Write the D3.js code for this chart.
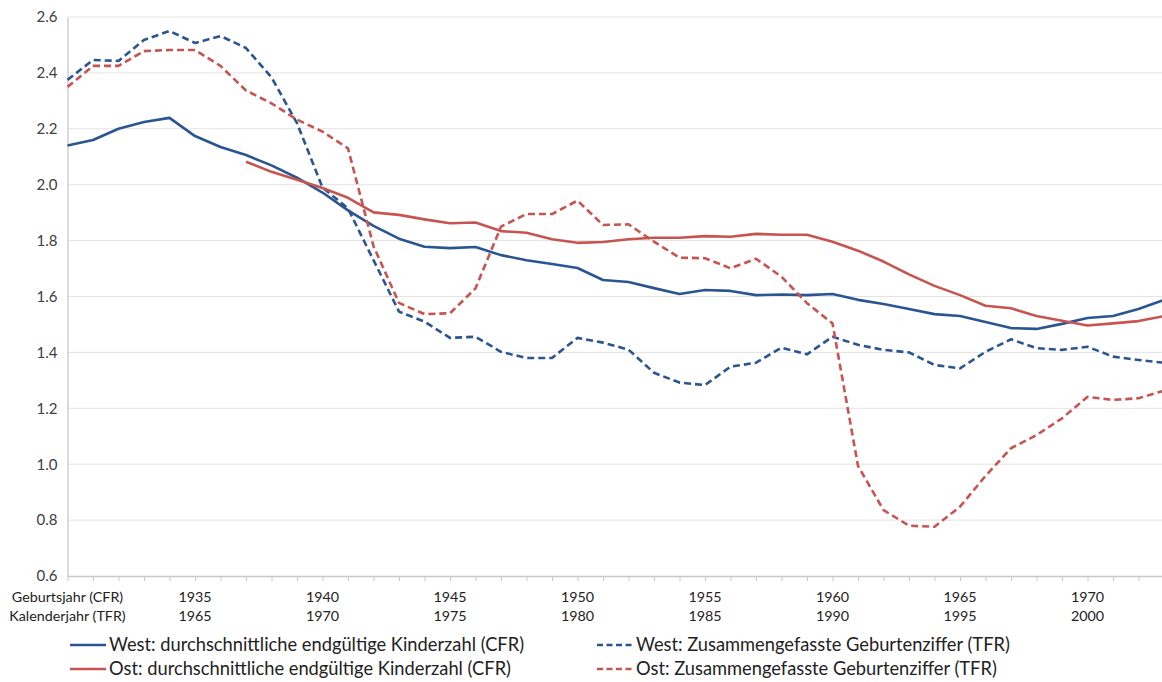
<!DOCTYPE html>
<html lang="de">
<head>
  <meta charset="UTF-8" />
  <title>Kinderzahl West / Ost</title>
  <script src="https://d3js.org/d3.v7.min.js"></script>
  <style>
    body, html {
      margin: 0;
      padding: 0;
      background: #fff;
    }
    #chart {
      display: block;
      font-family: Lato, "Open Sans", sans-serif;
    }
  </style>
</head>
<body>
  <svg id="chart"></svg>
  <script>
    // Birth years (CFR); calendar year for TFR = birth year + 30
    const years = [1930, 1931, 1932, 1933, 1934, 1935, 1936, 1937, 1938, 1939,
      1940, 1941, 1942, 1943, 1944, 1945, 1946, 1947, 1948, 1949,
      1950, 1951, 1952, 1953, 1954, 1955, 1956, 1957, 1958, 1959,
      1960, 1961, 1962, 1963, 1964, 1965, 1966, 1967, 1968, 1969,
      1970, 1971, 1972, 1973];

    const westCFR = [2.14, 2.16, 2.20, 2.224, 2.239, 2.174, 2.135, 2.106, 2.069, 2.025,
      1.972, 1.908, 1.853, 1.807, 1.778, 1.773, 1.777, 1.748, 1.730, 1.716,
      1.702, 1.659, 1.652, 1.630, 1.609, 1.623, 1.620, 1.605, 1.607, 1.605,
      1.609, 1.588, 1.573, 1.555, 1.537, 1.530, 1.509, 1.487, 1.484, 1.502,
      1.523, 1.530, 1.555, 1.588];

    const westTFR = [2.375, 2.446, 2.443, 2.518, 2.55, 2.507, 2.532, 2.489, 2.384, 2.22,
      1.99, 1.915, 1.73, 1.546, 1.51, 1.452, 1.456, 1.402, 1.38, 1.38,
      1.452, 1.435, 1.41, 1.327, 1.292, 1.283, 1.349, 1.363, 1.417, 1.393,
      1.456, 1.427, 1.409, 1.40, 1.355, 1.343, 1.402, 1.447, 1.415, 1.409,
      1.42, 1.385, 1.373, 1.363];

    // East CFR starts with birth year 1937
    const ostCFR = [null, null, null, null, null, null, null, 2.082, 2.046, 2.018,
      1.988, 1.953, 1.901, 1.892, 1.876, 1.862, 1.865, 1.834, 1.828, 1.805,
      1.792, 1.795, 1.805, 1.81, 1.81, 1.816, 1.814, 1.824, 1.821, 1.821,
      1.796, 1.764, 1.725, 1.679, 1.638, 1.605, 1.567, 1.558, 1.53, 1.513,
      1.496, 1.504, 1.512, 1.53];

    const ostTFR = [2.35, 2.425, 2.425, 2.478, 2.482, 2.482, 2.425, 2.337, 2.291, 2.233,
      2.19, 2.13, 1.78, 1.577, 1.537, 1.54, 1.629, 1.85, 1.895, 1.895,
      1.943, 1.856, 1.858, 1.796, 1.739, 1.737, 1.701, 1.735, 1.671, 1.576,
      1.504, 0.994, 0.836, 0.78, 0.776, 0.848, 0.958, 1.057, 1.104, 1.164,
      1.241, 1.23, 1.236, 1.263];

    const yTicks = [0.6, 0.8, 1.0, 1.2, 1.4, 1.6, 1.8, 2.0, 2.2, 2.4, 2.6];

    // Two-row category labels: birth year and calendar year
    const labelYears = [1930, 1935, 1940, 1945, 1950, 1955, 1960, 1965, 1970];
    const rowCFR = ['Geburtsjahr (CFR)', '1935', '1940', '1945', '1950', '1955', '1960', '1965', '1970'];
    const rowTFR = ['Kalenderjahr (TFR)', '1965', '1970', '1975', '1980', '1985', '1990', '1995', '2000'];

    const seriesNames = [
      'West: durchschnittliche endgültige Kinderzahl (CFR)',
      'West: Zusammengefasste Geburtenziffer (TFR)',
      'Ost: durchschnittliche endgültige Kinderzahl (CFR)',
      'Ost: Zusammengefasste Geburtenziffer (TFR)'
    ];

    const blue = '#2b5591';
    const red = '#c65451';

    const series = [
      { name: seriesNames[0], values: westCFR, color: blue, dashed: false },
      { name: seriesNames[1], values: westTFR, color: blue, dashed: true },
      { name: seriesNames[2], values: ostCFR, color: red, dashed: false },
      { name: seriesNames[3], values: ostTFR, color: red, dashed: true }
    ];

    const width = 1162, height = 682;
    const margin = { top: 17, right: -2, bottom: 106, left: 67.5 };

    const svg = d3.select('#chart')
      .attr('width', width)
      .attr('height', height);

    const x = d3.scaleLinear()
      .domain([1930, 1973])
      .range([margin.left, width - margin.right]);

    const y = d3.scaleLinear()
      .domain([0.6, 2.6])
      .range([height - margin.bottom, margin.top]);

    // Gridlines
    svg.append('g')
      .selectAll('line')
      .data(yTicks.filter(d => d > 0.6))
      .enter().append('line')
      .attr('x1', margin.left)
      .attr('x2', width)
      .attr('y1', d => y(d))
      .attr('y2', d => y(d))
      .attr('stroke', '#e3e3e3')
      .attr('stroke-width', 1);

    // Y axis
    const yAxis = svg.append('g')
      .attr('transform', `translate(${margin.left},0)`)
      .call(d3.axisLeft(y).tickValues(yTicks).tickFormat(d3.format('.1f')).tickSize(0).tickPadding(10));
    yAxis.select('.domain').attr('stroke', '#d0d0d0').attr('stroke-width', 1.5);
    yAxis.selectAll('text')
      .attr('fill', '#404040')
      .attr('font-size', 15)
      .attr('font-family', 'Lato, sans-serif');

    // X axis with a tick per year
    const xAxis = svg.append('g')
      .attr('transform', `translate(0,${y(0.6)})`)
      .call(d3.axisBottom(x).tickValues(years).tickFormat('').tickSizeInner(5).tickSizeOuter(0));
    xAxis.select('.domain').attr('stroke', '#c8c8c8').attr('stroke-width', 1.5);
    xAxis.selectAll('.tick line').attr('stroke', '#c8c8c8');

    // Two rows of x labels
    const labelGroup = svg.append('g')
      .attr('fill', '#222')
      .attr('font-size', 14.3)
      .attr('text-anchor', 'middle');
    [rowCFR, rowTFR].forEach((row, i) => {
      labelGroup.selectAll('.row' + i)
        .data(labelYears)
        .enter().append('text')
        .attr('class', 'row' + i)
        .attr('x', d => x(d))
        .attr('y', y(0.6) + 21 + i * 19)
        .attr('dy', '0.35em')
        .text((d, j) => row[j]);
    });

    // Lines
    const line = d3.line()
      .defined(d => d.v != null)
      .x(d => x(d.year))
      .y(d => y(d.v));

    svg.append('g')
      .selectAll('path')
      .data(series)
      .enter().append('path')
      .attr('fill', 'none')
      .attr('stroke', d => d.color)
      .attr('stroke-width', 2.6)
      .attr('stroke-linejoin', 'round')
      .attr('stroke-dasharray', d => d.dashed ? '7,4' : null)
      .attr('d', d => line(years.map((yr, i) => ({ year: yr, v: d.values[i] }))));

    // Legend (two columns, two rows)
    const legendPos = [
      { x: 70, y: 645 },
      { x: 597, y: 645 },
      { x: 70, y: 669 },
      { x: 597, y: 669 }
    ];
    const legend = svg.append('g')
      .selectAll('g')
      .data(series)
      .enter().append('g')
      .attr('transform', (d, i) => `translate(${legendPos[i].x},${legendPos[i].y})`);

    legend.append('line')
      .attr('x1', 0)
      .attr('x2', 36)
      .attr('stroke', d => d.color)
      .attr('stroke-width', 2.6)
      .attr('stroke-dasharray', d => d.dashed ? '6,3.5' : null);

    legend.append('text')
      .attr('x', 39)
      .attr('dy', '0.35em')
      .attr('font-size', 18.3)
      .attr('fill', '#222')
      .text(d => d.name);
  </script>
</body>
</html>
